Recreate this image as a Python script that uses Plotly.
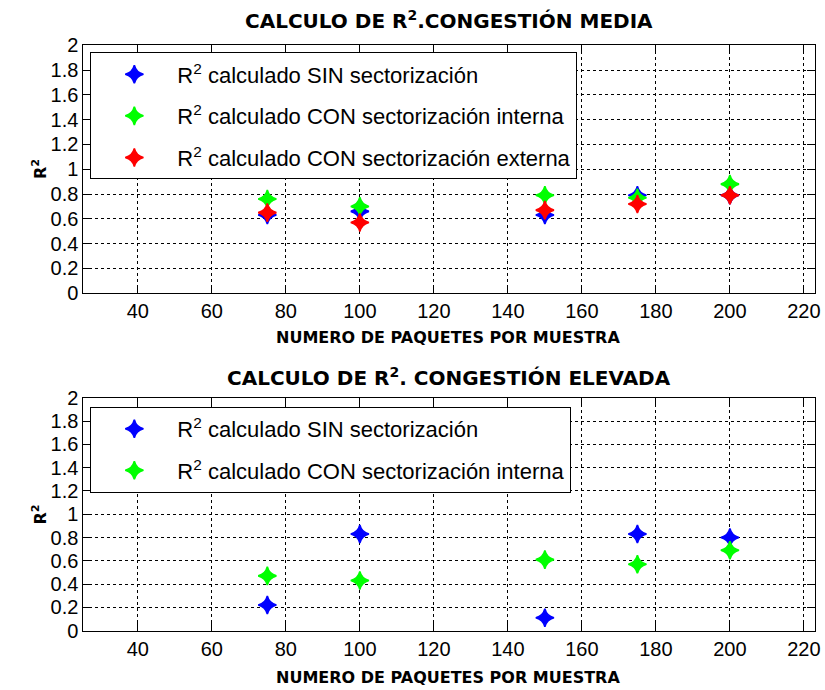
import plotly.graph_objects as go

# ---------------- data ----------------
paquetes = [75, 100, 150, 175, 200]

# Congestión media
media_sin = [0.63, 0.66, 0.63, 0.79, 0.79]
media_con_interna = [0.76, 0.70, 0.79, 0.77, 0.88]
media_con_externa = [0.65, 0.57, 0.67, 0.72, 0.79]

# Congestión elevada
elevada_sin = [0.22, 0.83, 0.11, 0.83, 0.80]
elevada_con_interna = [0.47, 0.43, 0.61, 0.57, 0.69]

x_ticks = [40, 60, 80, 100, 120, 140, 160, 180, 200, 220]
y_ticks = [0, 0.2, 0.4, 0.6, 0.8, 1, 1.2, 1.4, 1.6, 1.8, 2]
y_ticktext = ["0", "0.2", "0.4", "0.6", "0.8", "1", "1.2", "1.4", "1.6", "1.8", "2"]

lbl_sin = "R<sup>2</sup> calculado SIN sectorización"
lbl_int = "R<sup>2</sup> calculado CON sectorización interna"
lbl_ext = "R<sup>2</sup> calculado CON sectorización externa"

title_top = "CALCULO DE R<sup>2</sup>.CONGESTIÓN MEDIA"
title_bot = "CALCULO DE R<sup>2</sup>. CONGESTIÓN ELEVADA"
xlabel = "NUMERO DE PAQUETES POR MUESTRA"
ylabel = "R<sup>2</sup>"

BLUE, GREEN, RED = "#0000ff", "#00ff00", "#ff0000"

W, H = 825, 690
def px_x(p):
    return p / W
# vertical placement (compensates for the effective drawing height seen in the capture)
def px_y(p):
    return 1 - (p - 10.5) / 669.0

BOLDF = "DejaVu Sans, sans-serif"
TICKF = dict(family="Liberation Sans, Arial, sans-serif", size=20, color="black")
LEGF = dict(family="Liberation Sans, Arial, sans-serif", size=22, color="black")

fig = go.Figure()

def mk(color):
    return dict(symbol="star-diamond", size=13, color=color, line=dict(width=1.6, color=color))

fig.add_trace(go.Scatter(x=paquetes, y=media_sin, mode="markers", name=lbl_sin,
                         marker=mk(BLUE), xaxis="x", yaxis="y", legend="legend", legendgroup="a"))
fig.add_trace(go.Scatter(x=paquetes, y=media_con_interna, mode="markers", name=lbl_int,
                         marker=mk(GREEN), xaxis="x", yaxis="y", legend="legend", legendgroup="b"))
fig.add_trace(go.Scatter(x=paquetes, y=media_con_externa, mode="markers", name=lbl_ext,
                         marker=mk(RED), xaxis="x", yaxis="y", legend="legend", legendgroup="c"))

fig.add_trace(go.Scatter(x=paquetes, y=elevada_sin, mode="markers", name=lbl_sin,
                         marker=mk(BLUE), xaxis="x2", yaxis="y2", legend="legend2", legendgroup="d"))
fig.add_trace(go.Scatter(x=paquetes, y=elevada_con_interna, mode="markers", name=lbl_int,
                         marker=mk(GREEN), xaxis="x2", yaxis="y2", legend="legend2", legendgroup="e"))

xdom = [px_x(84), px_x(821)]
xr = [25.3, 223.0]

axis_common = dict(
    showline=True, linecolor="black", linewidth=1, mirror="allticks",
    ticks="inside", ticklen=8, tickcolor="black", tickwidth=1,
    showgrid=True, gridcolor="black", gridwidth=1, griddash="3px,3px",
    zeroline=False, tickfont=TICKF, ticklabeloverflow="allow",
)

fig.update_layout(
    width=W, height=H,
    margin=dict(l=0, r=0, t=0, b=0),
    paper_bgcolor="white", plot_bgcolor="white",
    showlegend=True,
    xaxis=dict(domain=xdom, range=xr, tickvals=x_ticks, anchor="y", **axis_common),
    yaxis=dict(domain=[px_y(293), px_y(45)], range=[0, 2], tickvals=y_ticks, ticktext=y_ticktext,
               anchor="x", **axis_common),
    xaxis2=dict(domain=xdom, range=xr, tickvals=x_ticks, anchor="y2", **axis_common),
    yaxis2=dict(domain=[px_y(631), px_y(398)], range=[0, 2], tickvals=y_ticks, ticktext=y_ticktext,
                anchor="x2", **axis_common),
    legend=dict(x=px_x(91), y=px_y(52), xanchor="left", yanchor="top",
                bgcolor="white", bordercolor="black", borderwidth=1,
                font=LEGF, traceorder="grouped", tracegroupgap=10, itemwidth=76),
    legend2=dict(x=px_x(91), y=px_y(407), xanchor="left", yanchor="top",
                 bgcolor="white", bordercolor="black", borderwidth=1,
                 font=LEGF, traceorder="grouped", tracegroupgap=10, itemwidth=76),
)

ann = []
TF = dict(family=BOLDF, size=20, color="black")
AF = dict(family=BOLDF, size=16, color="black")
ann.append(dict(text="<b>" + title_top + "</b>", x=px_x(452), y=px_y(20), xref="paper", yref="paper",
                showarrow=False, font=TF, xanchor="center", yanchor="middle"))
ann.append(dict(text="<b>" + title_bot + "</b>", x=px_x(452), y=px_y(377), xref="paper", yref="paper",
                showarrow=False, font=TF, xanchor="center", yanchor="middle"))
ann.append(dict(text="<b>" + xlabel + "</b>", x=px_x(451), y=px_y(337), xref="paper", yref="paper",
                showarrow=False, font=AF, xanchor="center", yanchor="middle"))
ann.append(dict(text="<b>" + xlabel + "</b>", x=px_x(451), y=px_y(678), xref="paper", yref="paper",
                showarrow=False, font=AF, xanchor="center", yanchor="middle"))
ann.append(dict(text="<b>" + ylabel + "</b>", x=px_x(40), y=px_y(169), xref="paper", yref="paper",
                showarrow=False, font=AF, textangle=-90, xanchor="center", yanchor="middle"))
ann.append(dict(text="<b>" + ylabel + "</b>", x=px_x(40), y=px_y(515), xref="paper", yref="paper",
                showarrow=False, font=AF, textangle=-90, xanchor="center", yanchor="middle"))
fig.update_layout(annotations=ann)

fig.write_html("out.html", config={"displayModeBar": False},
               post_script="document.body.style.margin='0';document.body.style.overflow='hidden';")
